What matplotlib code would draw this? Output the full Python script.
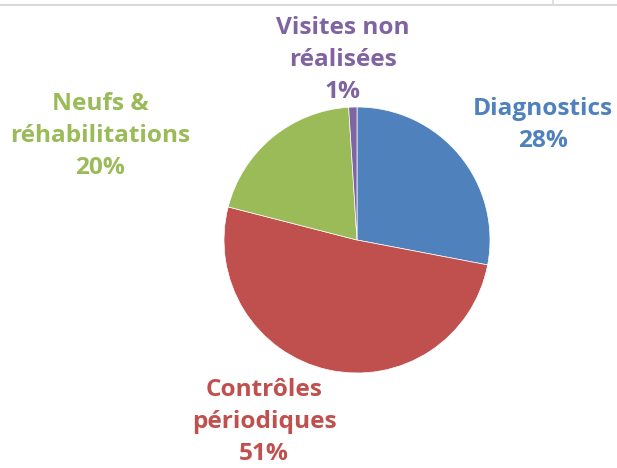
import matplotlib.pyplot as plt
from matplotlib.lines import Line2D

categories = ['Diagnostics', 'Contrôles\npériodiques', 'Neufs &\nréhabilitations', 'Visites non\nréalisées']
values = [28, 51, 20, 1]
colors = ['#4F81BD', '#C0504D', '#9BBB59', '#8064A2']
# label centres in pixels (x, y from top)
label_pos = [(543, 125), (264, 422), (100, 136), (343, 60)]

W, H = 617, 468
fig = plt.figure(figsize=(W / 100, H / 100), dpi=100)
ax = fig.add_axes([0, 0, 1, 1])

ax.pie(values, colors=colors, startangle=90, counterclock=False,
       center=(357, H - 240), radius=133,
       wedgeprops=dict(edgecolor='white', linewidth=0.5))
ax.set_xlim(0, W)
ax.set_ylim(0, H)
ax.set_aspect('equal')
ax.axis('off')

for name, val, col, (x, y) in zip(categories, values, colors, label_pos):
    ax.text(x, H - y, f"{name}\n{val}%", color=col, ha='center', va='center',
            fontsize=17.6, fontweight='bold', family='Open Sans', linespacing=1.42)

# bits of the spreadsheet frame at the top
fig.add_artist(Line2D([0, 1], [1 - 4.5 / H, 1 - 4.5 / H], color='#d9d9d9', lw=1.5))
fig.add_artist(Line2D([553 / W, 553 / W], [1, 1 - 4.5 / H], color='#d9d9d9', lw=1.2))

fig.savefig('out.png', dpi=100, facecolor='white')
